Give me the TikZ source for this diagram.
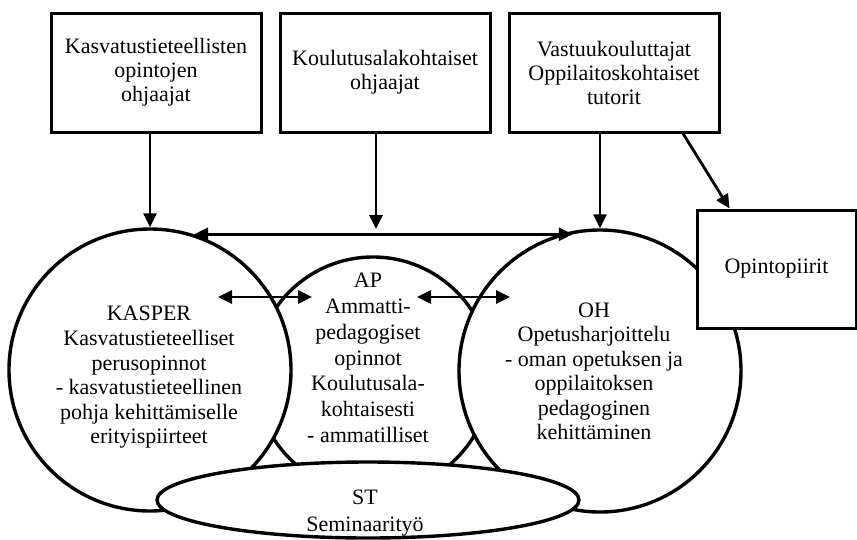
\documentclass[tikz,border=0pt]{standalone}
\usepackage{fontspec}
\setmainfont{Liberation Serif}
\usetikzlibrary{arrows.meta,positioning,shapes.geometric,calc}

\begin{document}
\begin{tikzpicture}[
  x=1pt,y=-1pt,
  font=\fontsize{22}{24}\selectfont,
  box/.style={draw,line width=3pt,fill=white,align=center,inner sep=0pt,
              minimum width=210pt,minimum height=119pt},
  ring/.style={draw,circle,line width=3.4pt,fill=white,inner sep=0pt},
  txt/.style={align=center,inner sep=0pt},
  arr/.style={-{Triangle[length=14pt,width=13pt]},line width=2.8pt},
  dbl/.style={{Triangle[length=14pt,width=13pt]}-{Triangle[length=14pt,width=13pt]},line width=2.8pt}
]
\useasboundingbox (0,0) rectangle (857,539);
% overlapping study areas (AP lies behind the two large circles)
\node[ring,minimum size=236pt] (ap) at (373,375) {};
\node[ring,minimum size=282pt] (kasper) at (150,370) {};
\node[ring,minimum size=282pt] (oh) at (600,371) {};
\node[draw,ellipse,line width=3.4pt,fill=white,minimum width=422pt,minimum height=76pt] (st) at (368,500) {};
\node[box,minimum width=159pt,minimum height=118pt] (opi) at (776.5,269) {Opintopiirit};

\node[txt,font=\fontsize{22}{24.6}\selectfont] (kaspertxt) at (149,377.5)
  {KASPER\\Kasvatustieteelliset\\perusopinnot\\- kasvatustieteellinen\\pohja kehittämiselle\\erityispiirteet};
\node[txt,font=\fontsize{22}{25.8}\selectfont] (aptxt) at (368,358)
  {AP\\Ammatti-\\pedagogiset\\opinnot\\Koulutusala-\\kohtaisesti\\- ammatilliset};
\node[txt,font=\fontsize{22}{24.5}\selectfont] (ohtxt) at (594,371.5)
  {OH\\Opetusharjoittelu\\- oman opetuksen ja\\oppilaitoksen\\pedagoginen\\kehittäminen};
\node[txt,font=\fontsize{22}{27}\selectfont] (sttxt) at (365,513) {ST\\Seminaarityö};

% supervisors
\node[box] (kas) at (156,72.5) {Kasvatustieteellisten\\opintojen\\ohjaajat};
\node[box,right=16pt of kas] (kou) {Koulutusalakohtaiset\\ohjaajat};
\node[box,right=16pt of kou] (vas) {Vastuukouluttajat\\Oppilaitoskohtaiset\\tutorit};

\coordinate (meet) at (376,229);
\coordinate (k1) at (218,297); \coordinate (a1) at (312,297);
\coordinate (a2) at (417,297); \coordinate (o1) at (510,297);

\draw[arr] (kasper.north |- kas.south) -- (kasper.north);
\draw[arr] (meet |- kou.south) -- (meet);
\draw[arr] (oh.north |- vas.south) -- (oh.north);
\draw[arr] ($(vas.south)+(69,0)$) -- ($(opi.north west)+(34,0)$);
\draw[dbl] (kasper.72) -- (kasper.72 -| oh.101);
\draw[dbl] (k1) -- (a1);
\draw[dbl] (a2) -- (o1);
\end{tikzpicture}
\end{document}
